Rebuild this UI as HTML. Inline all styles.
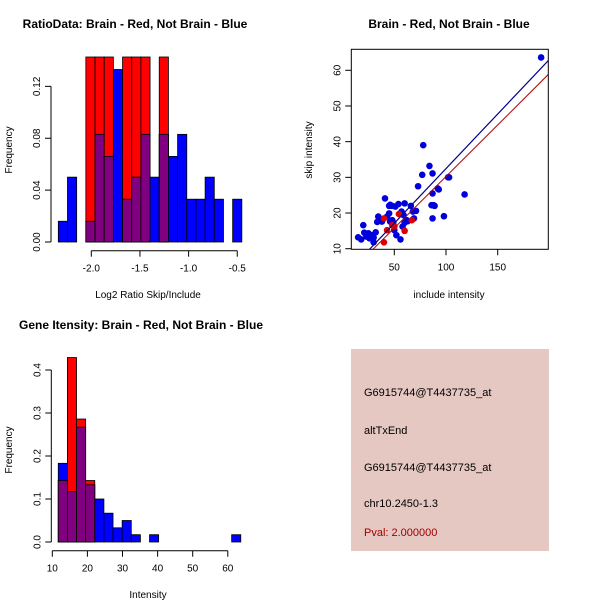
<!DOCTYPE html>
<html><head><meta charset="utf-8"><style>
body{margin:0;background:#fff}
svg{display:block;font-family:"Liberation Sans",sans-serif}
</style></head><body>
<svg id="c" width="600" height="600" xmlns="http://www.w3.org/2000/svg">
<rect width="600" height="600" fill="#fff"/>
<g id="p1"></g>
<g id="p2"></g>
<g id="p3"></g>
<g>
<rect x="351" y="349" width="198" height="202" fill="#e6c8c2"/>
<text x="364" y="396" font-size="11">G6915744@T4437735_at</text>
<text x="364" y="434" font-size="11">altTxEnd</text>
<text x="364" y="471" font-size="11">G6915744@T4437735_at</text>
<text x="364" y="507" font-size="11">chr10.2450-1.3</text>
<text x="364" y="536" font-size="11" fill="#a00000">Pval: 2.000000</text>
</g>
</svg>
<script>
// Plot 1 data
const h1Start=-2.339, h1Width=0.0943;
const h1Blue=[0.016,0.05,0,0.016,0.083,0.066,0.133,0.033,0.05,0.083,0.05,0.083,0.066,0.083,0.033,0.033,0.05,0.033,0,0.033];
const h1Red=[0,0,0,0.167,0.167,0.167,0,0.167,0.167,0.167,0,0.167,0,0,0,0,0,0,0,0];
const h1XTicks=[-2.0,-1.5,-1.0,-0.5];
const h1XLabels=["-2.0","-1.5","-1.0","-0.5"];
const h1YTicks=[0,0.04,0.08,0.12];
const h1YLabels=["0.00","0.04","0.08","0.12"];
// Plot 2 data
const scBlueX=[15,18,20,21,23,25,26,28,30,30,32,34.5,33.5,38,41,45,46,48,43,45,46,48,49,50,52,51,54,57,60,59,62,58,56,60,63,66,68,71,69,73,77,78,84,87,87,86,88,87,89,92,93,98,102,103,118,192];
const scBlueY=[13.2,12.6,16.6,14.5,13.4,14.3,12.9,13.8,13.1,11.8,14.6,19.0,17.5,17.6,24.1,22,22.3,22,19,19.9,17.6,18,17.3,15.2,13.8,21.8,22.5,20.4,22.7,19.4,18,16.2,12.6,17.3,17.7,22,20.4,20.6,18.5,27.5,30.7,39,33.2,31.1,25.5,22.2,22.2,18.5,22,26.9,26.6,19.1,30,30,25.2,63.6];
const scRedX=[40,43,40,54.5,60,67,48,50];
const scRedY=[18.5,15.2,11.8,19.7,15,18,16.6,16.2];
const fitBlue=[1.85,0.306], fitRed=[1.34,0.289];
const scXTicks=[50,100,150], scYTicks=[10,20,30,40,50,60];
// Plot 3 data
const h3Start=11.7, h3Width=2.6;
const h3Blue=[0.183,0.117,0.267,0.133,0.1,0.067,0.033,0.05,0.017,0,0.017,0,0,0,0,0,0,0,0,0.017];
const h3Red=[0.143,0.429,0.286,0.143,0,0,0,0,0,0,0,0,0,0,0,0,0,0,0,0];
const h3XTicks=[10,20,30,40,50,60];
const h3YTicks=[0,0.1,0.2,0.3,0.4];
const h3YLabels=["0.0","0.1","0.2","0.3","0.4"];

const NS="http://www.w3.org/2000/svg";
function mk(parent,tag,attrs,text){const e=document.createElementNS(NS,tag);for(const k in attrs)e.setAttribute(k,attrs[k]);if(text!==undefined)e.textContent=text;parent.appendChild(e);return e;}

function hist(g,cfg){
  const {x,y,start,width,blue,red,clipTop}=cfg;
  for(let i=0;i<blue.length;i++){
    const x0=x(start+i*width),x1=x(start+(i+1)*width);
    const b=blue[i],r=red[i];
    const top=v=>Math.max(y(v),clipTop);
    if(b>0){const e=mk(g,'rect',{x:x0,y:top(b),width:x1-x0,height:y(0)-top(b),fill:'#0000ff',stroke:'#000','stroke-width':0.8});
      }
    if(r>0){const e=mk(g,'rect',{x:x0,y:top(r),width:x1-x0,height:y(0)-top(r),fill:'#ff0000',stroke:'#000','stroke-width':0.8});
      }
    const m=Math.min(b,r);
    if(m>0){const e=mk(g,'rect',{x:x0,y:top(m),width:x1-x0,height:y(0)-top(m),fill:'#800080',stroke:'#000','stroke-width':0.8});
      }
  }
}
function yAxis(g,ax,y,ticks,labels,title,ty){
  const a=mk(g,'line',{x1:ax,x2:ax,y1:y(ticks[0]),y2:y(ticks[ticks.length-1]),stroke:'#000'});
  
  ticks.forEach((t,i)=>{mk(g,'line',{x1:ax,x2:ax-6,y1:y(t),y2:y(t),stroke:'#000'});
    const l=mk(g,'text',{x:0,y:0,'font-size':10,'text-anchor':'middle',transform:`translate(${ax-11},${y(t)}) rotate(-90)`},labels[i]);
    });
  const tt=mk(g,'text',{x:0,y:0,'font-size':10,'text-anchor':'middle',transform:`translate(12,${ty}) rotate(-90)`},title);
  
}
function xAxis(g,ay,x,ticks,labels,title,tx,tyy){
  const a=mk(g,'line',{x1:x(ticks[0]),x2:x(ticks[ticks.length-1]),y1:ay,y2:ay,stroke:'#000'});
  
  ticks.forEach((t,i)=>{mk(g,'line',{x1:x(t),x2:x(t),y1:ay,y2:ay+6,stroke:'#000'});
    const l=mk(g,'text',{x:x(t),y:ay+21,'font-size':10,'text-anchor':'middle'},labels[i]);
    });
  const tt=mk(g,'text',{x:tx,y:tyy,'font-size':10,'text-anchor':'middle'},title);
  
}
function title(g,cx,text){const t=mk(g,'text',{x:cx,y:28,'font-size':12,'font-weight':'bold','text-anchor':'middle'},text);
  return t;}

// Plot 1
{const g=document.getElementById('p1');
 const x=v=>91.3+(v+2.0)*97.3, y=v=>242-v*1297;
 hist(g,{x,y,start:h1Start,width:h1Width,blue:h1Blue,red:h1Red,clipTop:57});
 yAxis(g,51,y,h1YTicks,h1YLabels,'Frequency',150);
 xAxis(g,250.7,x,h1XTicks,h1XLabels,'Log2 Ratio Skip/Include',148,298);
 title(g,135,'RatioData: Brain - Red, Not Brain - Blue');}
// Plot 2
{const g=document.getElementById('p2');
 const x=v=>394.3+(v-50)*1.034, y=v=>248.7-(v-10)*3.568;
 const L=351.3,R=548.3,T=49.3,B=249.3;
 mk(g,'clipPath',{id:'cp2'});mk(g.lastChild,'rect',{x:L,y:T,width:R-L,height:B-T});
 const cg=mk(g,'g',{'clip-path':'url(#cp2)'});
 for(let i=0;i<scBlueX.length;i++){const c=mk(cg,'circle',{cx:x(scBlueX[i]),cy:y(scBlueY[i]),r:3.3,fill:'#0000dd'});
   }
 for(let i=0;i<scRedX.length;i++){const c=mk(cg,'circle',{cx:x(scRedX[i]),cy:y(scRedY[i]),r:3.3,fill:'#e00000'});
   }
 const lb=mk(cg,'line',{x1:x(0),y1:y(fitBlue[0]),x2:x(220),y2:y(fitBlue[0]+fitBlue[1]*220),stroke:'#000090','stroke-width':1.2});
 
 const lr=mk(cg,'line',{x1:x(0),y1:y(fitRed[0]),x2:x(220),y2:y(fitRed[0]+fitRed[1]*220),stroke:'#b00000','stroke-width':1});
 
 const bx=mk(g,'rect',{x:L,y:T,width:R-L,height:B-T,fill:'none',stroke:'#000'});
 
 scXTicks.forEach(t=>{mk(g,'line',{x1:x(t),x2:x(t),y1:B,y2:B+6,stroke:'#000'});
   const l=mk(g,'text',{x:x(t),y:B+21,'font-size':10,'text-anchor':'middle'},String(t));
   });
 scYTicks.forEach(t=>{mk(g,'line',{x1:L,x2:L-6,y1:y(t),y2:y(t),stroke:'#000'});
   const l=mk(g,'text',{x:0,y:0,'font-size':10,'text-anchor':'middle',transform:`translate(${L-11},${y(t)}) rotate(-90)`},String(t));
   });
 const xt=mk(g,'text',{x:449,y:298,'font-size':10,'text-anchor':'middle'},'include intensity');
 
 const yt=mk(g,'text',{x:0,y:0,'font-size':10,'text-anchor':'middle',transform:'translate(312,150) rotate(-90)'},'skip intensity');
 
 title(g,449,'Brain - Red, Not Brain - Blue');}
// Plot 3
{const g=document.getElementById('p3');
 const x=v=>52.3+(v-10)*3.51, y=v=>542-v*430;
 hist(g,{x,y,start:h3Start,width:h3Width,blue:h3Blue,red:h3Red,clipTop:0});
 yAxis(g,51.3,y,h3YTicks,h3YLabels,'Frequency',450);
 xAxis(g,550.7,x,h3XTicks,h3XTicks.map(String),'Intensity',148,598);
 const t=title(g,141,'Gene Itensity: Brain - Red, Not Brain - Blue');t.setAttribute('y',329);}
</script>
</body></html>
